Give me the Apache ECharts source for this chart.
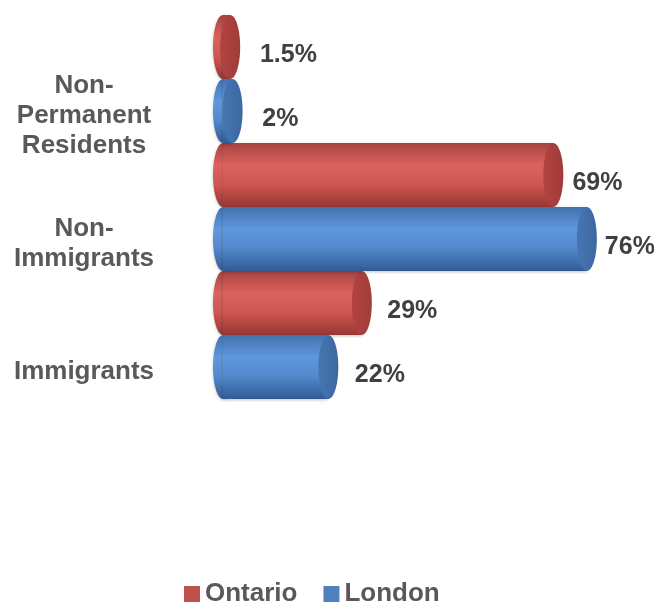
<!DOCTYPE html>
<html>
<head>
<meta charset="utf-8">
<script src="https://cdn.jsdelivr.net/npm/echarts@6/dist/echarts.min.js"></script>
<style>html,body{margin:0;padding:0;background:#fff;}#c{width:654px;height:602px;}</style>
</head>
<body>
<div id="c"></div>
<script>
const categories = ['Immigrants', 'Non-\nImmigrants', 'Non-\nPermanent\nResidents'];
const seriesNames = ['Ontario', 'London'];
const ontarioValues = [29, 69, 1.5];
const londonValues = [22, 76, 2];

const palettes = [
  { base: '#C0504D', edge: '#A64340', light: '#DC625E', mid: '#CF5551', dark: '#973735', cap: '#A13C3A', capLight: '#B0433F' },
  { base: '#4F81BD', edge: '#4272AF', light: '#5F98DD', mid: '#5488C9', dark: '#315C93', cap: '#3C68A0', capLight: '#4676B2' }
];
const FONT = 'Liberation Sans, Arial, sans-serif';

function renderItem(params, api) {
  const v = api.value(0), c = api.value(1);
  const p0 = api.coord([0, c]);
  const p1 = api.coord([v, c]);
  const band = api.size([0, 1])[1];
  const h = band / 2;
  const off = params.seriesIndex === 0 ? -h / 2 : h / 2;
  const cy = p0[1] + off;
  const rx = 10, ry = h / 2;
  const pal = palettes[params.seriesIndex];
  const bodyGrad = new echarts.graphic.LinearGradient(0, 0, 0, 1, [
    { offset: 0, color: pal.edge },
    { offset: 0.35, color: pal.light },
    { offset: 0.65, color: pal.mid },
    { offset: 1, color: pal.dark }
  ]);
  const capGrad = new echarts.graphic.LinearGradient(0, 0, 1, 0, [
    { offset: 0, color: pal.capLight },
    { offset: 1, color: pal.cap }
  ]);
  // label gap widens slightly for shorter bars (perspective look of the original)
  const gap = 8 + 12 * (1 - v / 76);
  return {
    type: 'group',
    children: [
      { type: 'ellipse', shape: { cx: p0[0], cy: cy, rx: rx, ry: ry }, style: { fill: bodyGrad, shadowBlur: 3, shadowColor: 'rgba(0,0,0,0.25)', shadowOffsetY: 1 } },
      { type: 'rect', shape: { x: p0[0], y: cy - ry, width: Math.max(0, p1[0] - p0[0]), height: h }, style: { fill: bodyGrad, shadowBlur: 3, shadowColor: 'rgba(0,0,0,0.25)', shadowOffsetY: 1 } },
      { type: 'ellipse', shape: { cx: p1[0], cy: cy, rx: rx, ry: ry }, style: { fill: capGrad } },
      { type: 'text', x: p1[0] + rx + gap, y: cy + 8, style: { text: v + '%', fontFamily: FONT, fontWeight: 'bold', fontSize: 25, fill: '#404040', verticalAlign: 'middle', align: 'left' } }
    ]
  };
}

const chart = echarts.init(document.getElementById('c'));
chart.setOption({
  animation: false,
  backgroundColor: '#fff',
  grid: { left: 223, top: 15, width: 383, height: 384, containLabel: false },
  xAxis: { type: 'value', min: 0, max: 80, show: false },
  yAxis: {
    type: 'category',
    data: categories,
    axisLine: { show: false },
    axisTick: { show: false },
    splitLine: { show: false },
    axisLabel: {
      interval: 0,
      hideOverlap: false,
      align: 'center',
      margin: 139,
      formatter: function (val) {
        return '{s| }\n' + val.split('\n').map(function (l) { return '{t|' + l + '}'; }).join('\n');
      },
      rich: {
        s: { fontSize: 1, lineHeight: 73 },
        t: { fontFamily: FONT, fontWeight: 'bold', fontSize: 26, lineHeight: 30, color: '#595959', align: 'center' }
      }
    }
  },
  legend: {
    left: 184,
    top: 581,
    padding: 0,
    icon: 'rect',
    itemWidth: 16,
    itemHeight: 16,
    itemGap: 26,
    textStyle: { fontFamily: FONT, fontWeight: 'bold', fontSize: 26, color: '#595959' },
    data: seriesNames
  },
  series: [
    { name: seriesNames[0], type: 'custom', renderItem: renderItem, itemStyle: { color: palettes[0].base }, clip: false,
      data: ontarioValues.map((v, i) => [v, i]) },
    { name: seriesNames[1], type: 'custom', renderItem: renderItem, itemStyle: { color: palettes[1].base }, clip: false,
      data: londonValues.map((v, i) => [v, i]) }
  ]
});
</script>
</body>
</html>
